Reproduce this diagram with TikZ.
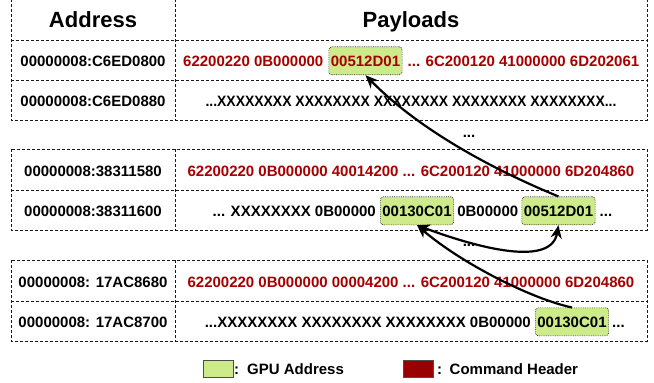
\documentclass[tikz,border=0pt]{standalone}
\usepackage{fontspec}
\setmainfont{Liberation Sans}
\usetikzlibrary{arrows.meta,calc}
\definecolor{gpugreen}{HTML}{CDEB8B}
\definecolor{hdrred}{HTML}{990000}
\definecolor{txtred}{HTML}{A80000}
\begin{document}
\begin{tikzpicture}[x=1pt,y=-1pt,
  cell/.style={draw=black!90, line width=0.75pt, dash pattern=on 3pt off 2pt},
  txt/.style={inner sep=0pt, font=\fontsize{15}{18}\selectfont\bfseries},
  redtxt/.style={txt, text=txtred},
  hdr/.style={inner sep=0pt, font=\fontsize{22}{26}\selectfont\bfseries},
  gbox/.style={txt, fill=gpugreen, draw=black!80, dash pattern=on 0.8pt off 1pt, line width=0.7pt, rounded corners=3pt, inner xsep=2pt, minimum height=28pt},
  legbox/.style={draw=black!70, line width=0.6pt, minimum width=30pt, minimum height=17pt, inner sep=0pt, anchor=north west},
  tip/.tip={Stealth[length=13pt,width=11pt,inset=4pt]},
  link/.style={line width=2.2pt, -tip},
]
\useasboundingbox (0,0) rectangle (654,383);

% table blocks
\draw[cell] (11,-1) rectangle (647,120);
\draw[cell] (11,40) -- (647,40);
\draw[cell] (11,80) -- (647,80);
\draw[cell] (175,-1) -- (175,120);

\draw[cell] (11,149) rectangle (647,230);
\draw[cell] (11,190) -- (647,190);
\draw[cell] (175,149) -- (175,230);

\draw[cell] (11,260) rectangle (647,341);
\draw[cell] (11,301) -- (647,301);
\draw[cell] (175,260) -- (175,341);

% headers
\node[hdr, anchor=base] (hA) at (93,27) {Address};
\node[hdr, anchor=base] (hP) at (411,27) {Payloads};

% addresses
\node[txt, anchor=base] (a1) at (93,66) {00000008:C6ED0800};
\node[txt, anchor=base] (a2) at (93,106) {00000008:C6ED0880};
\node[txt, anchor=base] (a3) at (93,176) {00000008:38311580};
\node[txt, anchor=base] (a4) at (93,216) {00000008:38311600};
\node[txt, anchor=base] (a5) at (93,287) {00000008: 17AC8680};
\node[txt, anchor=base] (a6) at (93,327) {00000008: 17AC8700};

% row 1
\node[gbox, text=txtred, anchor=base] (g1) at (365.5,66) {00512D01};
\node[redtxt, anchor=base east] (p1a) at ([xshift=-5pt]g1.base west) {62200220 0B000000};
\node[redtxt, anchor=base west] (p1b) at ([xshift=5pt]g1.base east) {... 6C200120 41000000 6D202061};

% row 2
\node[txt, anchor=base] (p2) at (411,106) {\scalebox{0.93}[1]{...XXXXXXXX XXXXXXXX XXXXXXXX XXXXXXXX XXXXXXXX...}};

% gap dots
\node[txt, anchor=base] (d1) at (469,137) {...};

% row 3
\node[redtxt, anchor=base] (p3) at (411,176) {62200220 0B000000 40014200 ... 6C200120 41000000 6D204860};

% row 4
\node[gbox, anchor=base] (g4a) at (417,216) {00130C01};
\node[gbox, anchor=base] (g4b) at (558.5,216) {00512D01};
\node[txt, anchor=base east] (p4a) at ([xshift=-4pt]g4a.base west) {... XXXXXXXX 0B00000};
\node[txt, anchor=base] (p4b) at ($(g4a.base east)!0.5!(g4b.base west)$) {0B00000};
\node[txt, anchor=base west] (p4c) at ([xshift=4pt]g4b.base east) {...};

\node[txt, anchor=base] (d2) at (469,246) {...};

% row 5
\node[redtxt, anchor=base] (p5) at (411,287) {62200220 0B000000 00004200 ... 6C200120 41000000 6D204860};

% row 6
\node[gbox, anchor=base] (g6) at (572,327) {00130C01};
\node[txt, anchor=base east] (p6a) at ([xshift=-4pt]g6.base west) {...XXXXXXXX XXXXXXXX XXXXXXXX 0B00000};
\node[txt, anchor=base west] (p6b) at ([xshift=3pt]g6.base east) {...};

% legend
\node[legbox, fill=gpugreen] (lg) at (203,360) {};
\node[txt, anchor=base west] (lgt) at (234,374) {:\hspace{8pt}GPU Address};
\node[legbox, fill=hdrred] (lr) at (403,360) {};
\node[txt, anchor=base west] (lrt) at (437,374) {:\hspace{7.5pt}Command Header};

% arrows
\draw[link] (g4b.north) .. controls +(-68,-28) and +(52.5,53.5) .. (g1.south);
\draw[link, tip-tip] (g4a.south) .. controls +(48,18) and +(-8,45) .. (g4b.south);
\draw[link] (g6.north) .. controls +(-42,-9) and +(43,37) .. (g4a.south);
\end{tikzpicture}
\end{document}
